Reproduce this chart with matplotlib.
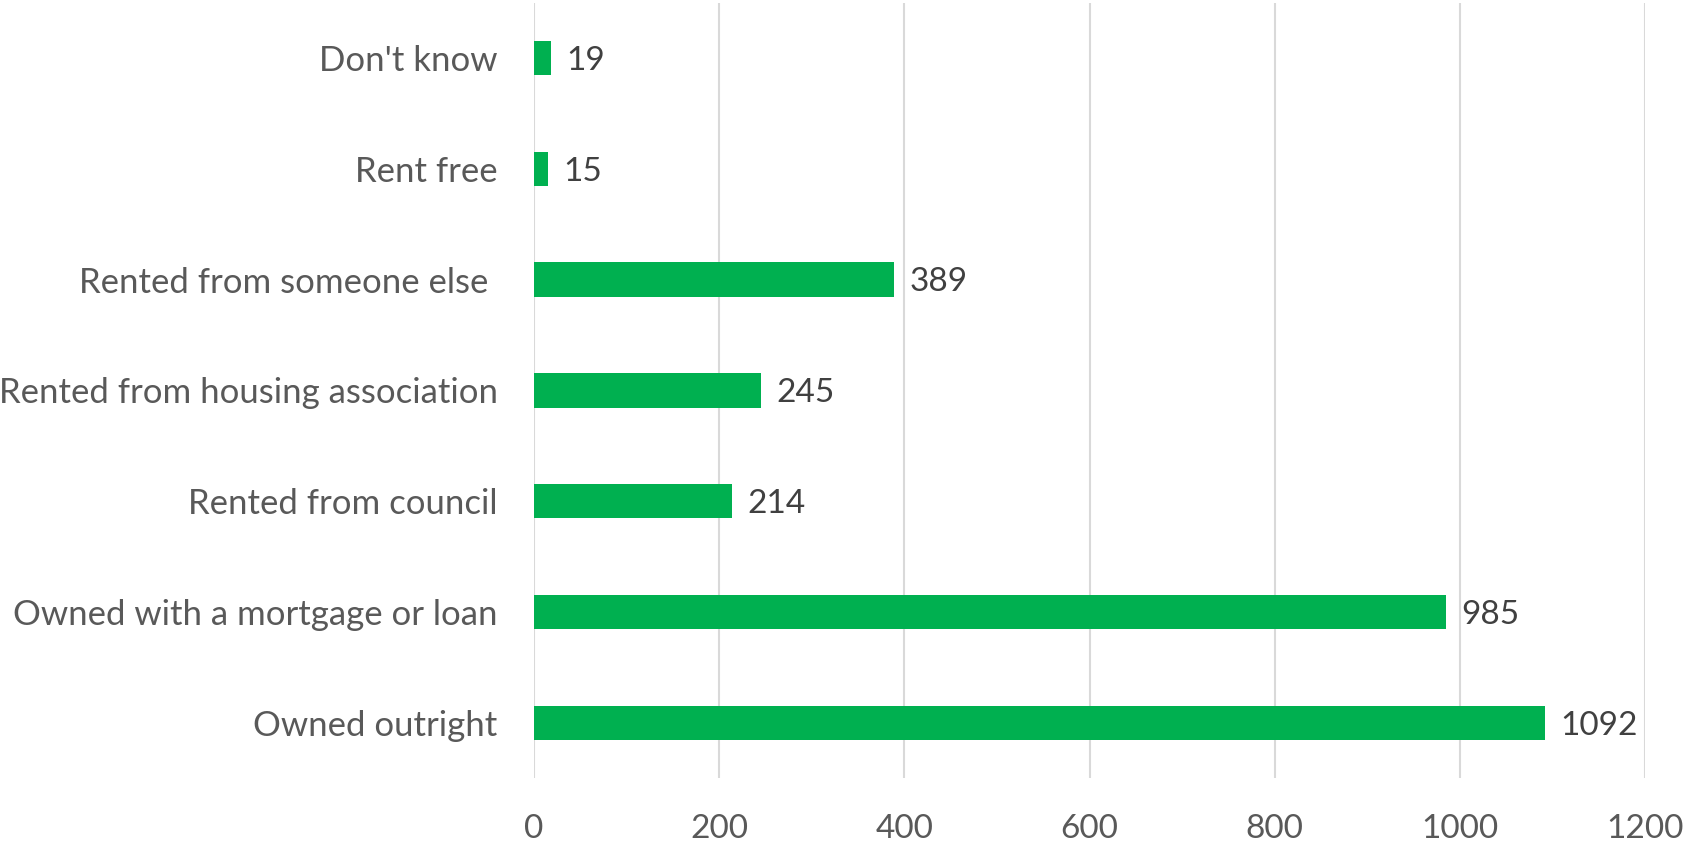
import matplotlib.pyplot as plt

# Housing tenure counts
categories = ['Owned outright', 'Owned with a mortgage or loan',
              'Rented from council', 'Rented from housing association',
              'Rented from someone else ', 'Rent free', "Don't know"]
counts = [1092, 985, 214, 245, 389, 15, 19]
xticks = [0, 200, 400, 600, 800, 1000, 1200]

plt.rcParams['font.family'] = ['Lato', 'DejaVu Sans']

fig = plt.figure(figsize=(16.84, 8.46), dpi=100)
ax = fig.add_axes([0.317, 0.080, 0.660, 0.917])

ypos = list(range(len(categories)))
bars = ax.barh(ypos, counts, height=0.31, color='#00B050', zorder=3)

ax.set_xlim(0, 1200)
ax.set_ylim(-0.5, len(categories) - 0.5)
ax.set_xticks(xticks)
ax.set_yticks(ypos)
ax.set_yticklabels(categories, fontsize=25)

# Value labels at the end of each bar
for rect, val in zip(bars, counts):
    ax.annotate(str(val), (rect.get_width(), rect.get_y() + rect.get_height() / 2),
                xytext=(11, -2), textcoords='offset points',
                ha='left', va='center', fontsize=24, color='#404040')

ax.grid(axis='x', color='#d9d9d9', linewidth=1.5, zorder=0)
for side in ['top', 'right', 'bottom', 'left']:
    ax.spines[side].set_visible(False)
ax.tick_params(axis='both', length=0, colors='#595959')
ax.tick_params(axis='x', pad=26, labelsize=24)
ax.tick_params(axis='y', pad=26)

plt.savefig('out.png')
